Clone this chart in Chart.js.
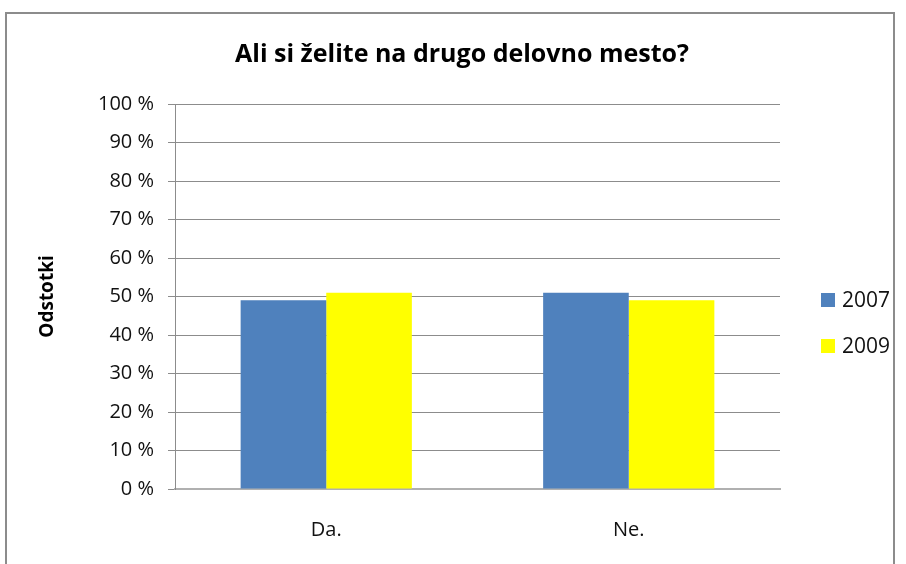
<!DOCTYPE html>
<html>
<head>
<meta charset="utf-8">
<script src="https://cdn.jsdelivr.net/npm/chart.js@4"></script>
<style>
  body { margin: 0; background: #fff; }
  #frame { position: absolute; left: 5px; top: 12px; width: 886px; height: 600px; border: 2px solid #8c8c8c; }
  #wrap { position: absolute; left: 0; top: 0; width: 906px; height: 564px; }
</style>
</head>
<body>
<div id="frame"></div>
<div id="wrap"><canvas id="chart" width="906" height="564"></canvas></div>
<script>
const categories = ['Da.', 'Ne.'];
const years = ['2007', '2009'];
const values2007 = [49, 51];
const values2009 = [51, 49];
const yTicks = [0, 10, 20, 30, 40, 50, 60, 70, 80, 90, 100];

const FONT = "'Open Sans', 'Noto Sans', sans-serif";

// legend drawn at the right like the original, from the datasets
const sideLegend = {
    id: 'sideLegend',
    afterDraw(chart) {
        let ctx = chart.ctx;
        ctx.save();
        ctx.font = '21px ' + FONT;
        ctx.textBaseline = 'middle';
        chart.data.datasets.forEach((ds, i) => {
            let y = 300 + i * 46;
            ctx.fillStyle = ds.backgroundColor;
            ctx.fillRect(821, y - 7, 14, 14);
            ctx.fillStyle = '#111';
            ctx.fillText(ds.label, 842, y + 1);
        });
        ctx.restore();
    }
};

const data = {
    labels: categories,
    datasets: [{
            label: years[0],
            data: values2007,
            backgroundColor: '#4f81bd',
            borderWidth: 0
        }, {
            label: years[1],
            data: values2009,
            backgroundColor: '#ffff00',
            borderWidth: 0
        }]
};

const config = {
    type: 'bar',
    data: data,
    options: {
        responsive: false,
        animation: false,
        layout: { padding: { left: 18, right: 0, top: 0, bottom: 0 } },
        datasets: {
            bar: { categoryPercentage: 0.566, barPercentage: 1.0 }
        },
        plugins: {
            legend: { display: false },
            tooltip: { enabled: false },
            title: {
                display: true,
                text: 'Ali si želite na drugo delovno mesto?',
                color: '#000',
                font: { family: FONT, size: 25, weight: 'bold' },
                padding: { top: 40, bottom: 34 }
            }
        },
        scales: {
            x: {
                grid: { display: false, drawTicks: false },
                border: { color: '#b0b0b0', width: 2 },
                ticks: {
                    color: '#111',
                    font: { family: FONT, size: 20 },
                    padding: 29
                },
                afterFit: s => { s.height = 75; }
            },
            y: {
                min: 0,
                max: 100,
                afterBuildTicks: s => { s.ticks = yTicks.map(v => ({ value: v })); },
                grid: { color: '#8c8c8c', lineWidth: 1, tickLength: 7 },
                border: { color: '#8c8c8c', width: 1 },
                ticks: {
                    color: '#111',
                    font: { family: FONT, size: 20 },
                    padding: 14,
                    callback: v => v + ' %'
                },
                title: {
                    display: true,
                    text: 'Odstotki',
                    color: '#000',
                    font: { family: FONT, size: 19, weight: 'bold' },
                    padding: { top: 18, bottom: 0 }
                },
                afterFit: s => { s.width = 157; }
            },
            // empty space on the right where the legend sits
            side: {
                position: 'right',
                grid: { display: false },
                border: { display: false },
                ticks: { display: false },
                afterFit: s => { s.width = 126; }
            }
        }
    },
    plugins: [sideLegend]
};

let ctx = document.getElementById('chart').getContext('2d');
new Chart(ctx, config);
</script>
</body>
</html>
